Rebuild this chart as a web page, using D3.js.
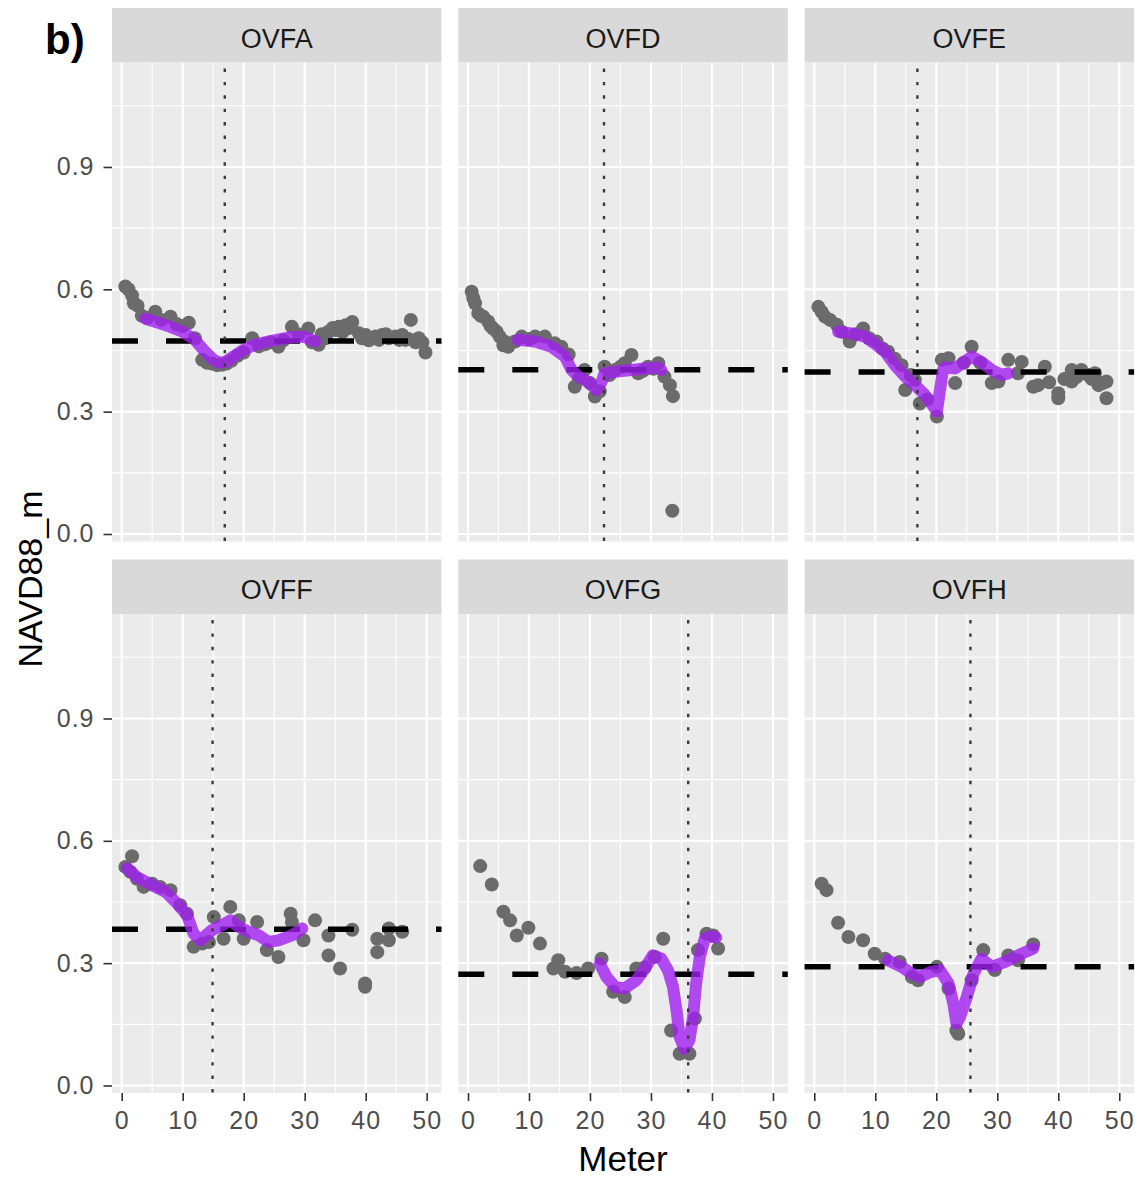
<!DOCTYPE html>
<html>
<head>
<meta charset="utf-8">
<script src="https://cdn.jsdelivr.net/npm/d3@7"></script>
<style>
    body { margin: 0; background: #ffffff; }
    text { font-family: "Liberation Sans", Arial, sans-serif; }
</style>
</head>
<body>
<div id="my_dataviz"></div>
<script>
//== DATA ================================================//
var sites = ["OVFA", "OVFD", "OVFE", "OVFF", "OVFG", "OVFH"];
var refLevel = [0.473, 0.403, 0.397, 0.383, 0.273, 0.291]; // dashed line
var crossMeter = [16.9, 22.3, 16.9, 14.9, 36.1, 25.6]; // dotted line

var xTicks = [0, 10, 20, 30, 40, 50];
var xMinor = [5, 15, 25, 35, 45];
var yTicks = [0, 0.3, 0.6, 0.9];
var yMinor = [0.15, 0.45, 0.75, 1.05];

// survey points
var ovfaMeter = [0.6, 1.1, 1.7, 2.0, 2.6, 3.3, 4.2, 5.5, 6.5, 8.0, 9.0, 10.0, 11.0, 12.0, 13.2, 14.0, 14.8, 15.6, 16.4, 17.2,
    18.0, 19.0, 20.0, 21.4, 22.5, 23.5, 24.5, 25.7, 26.5, 27.9, 29.0, 30.6, 31.2, 32.3, 33.4, 33.9, 34.6, 35.6, 36.7, 37.8,
    38.9, 40.0, 41.0, 41.6, 42.7, 43.8, 44.9, 46.0, 46.5, 47.4, 48.7, 49.8,
    32.8, 35.1, 36.2, 37.3, 39.4, 40.5, 42.2, 43.3, 45.5, 47.0, 48.2, 49.3];
var ovfaNavd = [0.607, 0.600, 0.585, 0.566, 0.56, 0.535, 0.53, 0.545, 0.525, 0.533, 0.515, 0.51, 0.518, 0.48, 0.427, 0.42, 0.418, 0.414, 0.415, 0.418,
    0.425, 0.437, 0.445, 0.48, 0.46, 0.465, 0.47, 0.459, 0.475, 0.508, 0.49, 0.504, 0.47, 0.464, 0.48, 0.496, 0.505, 0.508, 0.512, 0.52,
    0.492, 0.488, 0.48, 0.484, 0.488, 0.48, 0.484, 0.488, 0.476, 0.525, 0.48, 0.445,
    0.49, 0.5, 0.495, 0.505, 0.48, 0.475, 0.476, 0.49, 0.476, 0.478, 0.47, 0.47];

var ovfdMeter = [0.6, 0.87, 1.15, 1.7, 2.5, 3.3, 4.1, 4.7, 5.2, 5.8, 6.6, 7.7, 8.8, 10, 11, 12.6, 14.2, 15.3, 16.5, 17.5,
    18.2, 19.1, 20.0, 20.8, 21.6, 22.4, 23.2, 24.1, 25.0, 25.7, 26.8, 27.9, 28.7, 29.5, 30.4, 31.2, 32.2, 33.1, 33.6, 33.5,
    2.1, 3.7, 6.2];
var ovfdNavd = [0.594, 0.578, 0.566, 0.541, 0.533, 0.521, 0.504, 0.496, 0.484, 0.463, 0.459, 0.472, 0.484, 0.478, 0.484, 0.484, 0.468, 0.459, 0.44, 0.361,
    0.38, 0.402, 0.37, 0.337, 0.35, 0.41, 0.39, 0.402, 0.41, 0.419, 0.439, 0.394, 0.4, 0.41, 0.405, 0.419, 0.386, 0.365, 0.338, 0.057,
    0.535, 0.51, 0.47];

var ovfeMeter = [0.66, 1.2, 1.75, 2.6, 3.7, 4.5, 5.8, 6.8, 8.0, 9.0, 10.2, 11.2, 12.1, 13.2, 14.3, 14.9, 15.8, 16.5, 17.3, 18.5,
    20.1, 20.9, 22.0, 23.1, 24.5, 25.8, 27.2, 29.1, 30.2, 31.8, 33.4, 34.0, 35.9, 37.8, 38.5, 40.0, 40.0, 42.2, 42.2, 43.8,
    44.9, 46.0, 46.6, 47.9, 47.9,
    36.7, 41.0, 43.0, 45.5, 47.3];
var ovfeNavd = [0.557, 0.545, 0.533, 0.525, 0.513, 0.496, 0.472, 0.49, 0.504, 0.48, 0.472, 0.455, 0.447, 0.43, 0.414, 0.353, 0.39, 0.378, 0.32, 0.33,
    0.288, 0.427, 0.431, 0.37, 0.42, 0.459, 0.42, 0.37, 0.374, 0.427, 0.394, 0.422, 0.361, 0.41, 0.372, 0.345, 0.333, 0.402, 0.374, 0.402,
    0.39, 0.394, 0.365, 0.374, 0.333,
    0.365, 0.38, 0.385, 0.38, 0.37];

var ovffMeter = [0.6, 1.4, 1.7, 2.5, 3.6, 5.0, 6.3, 8.0, 9.6, 10.7, 11.8, 13.2, 14.3, 15.1, 16.7, 17.8, 19.2, 20.0, 22.2, 23.8,
    25.7, 27.7, 27.9, 29.8, 31.7, 33.9, 33.9, 35.8, 37.8, 39.9, 39.9, 41.9, 41.9, 43.8, 43.8, 46.0];
var ovffNavd = [0.536, 0.524, 0.562, 0.507, 0.487, 0.495, 0.487, 0.479, 0.442, 0.421, 0.34, 0.348, 0.352, 0.413, 0.36, 0.438, 0.405, 0.36, 0.401, 0.332,
    0.315, 0.421, 0.401, 0.356, 0.405, 0.368, 0.319, 0.287, 0.382, 0.25, 0.242, 0.327, 0.36, 0.385, 0.356, 0.377];

var ovfgMeter = [2.0, 3.9, 5.8, 6.9, 8.0, 9.9, 11.8, 14.0, 14.8, 15.9, 17.8, 19.7, 21.9, 23.8, 25.7, 27.6, 29.0, 30.6, 32.0, 33.3,
    34.7, 36.3, 37.2, 37.7, 39.1, 40.2, 41.0];
var ovfgNavd = [0.538, 0.493, 0.426, 0.405, 0.368, 0.387, 0.348, 0.287, 0.307, 0.279, 0.276, 0.287, 0.311, 0.23, 0.217, 0.287, 0.29, 0.315, 0.36, 0.135,
    0.078, 0.078, 0.164, 0.332, 0.372, 0.368, 0.336];

var ovfhMeter = [1.2, 2.0, 3.9, 5.6, 8.0, 9.9, 11.6, 14.0, 16.0, 17.0, 20.1, 22.0, 23.3, 23.6, 25.8, 27.7, 29.6, 31.8, 33.4, 35.9];
var ovfhNavd = [0.495, 0.479, 0.399, 0.364, 0.356, 0.323, 0.311, 0.303, 0.266, 0.258, 0.291, 0.238, 0.135, 0.127, 0.258, 0.332, 0.283, 0.319, 0.307, 0.346];

// purple profile line
var ovfaFitMeter = [3.9, 6, 8, 10, 12, 13.5, 15, 16, 17, 18, 20, 22, 24, 26, 28, 30, 31.7];
var ovfaFitNavd = [0.528, 0.518, 0.508, 0.496, 0.476, 0.45, 0.428, 0.42, 0.422, 0.432, 0.452, 0.465, 0.472, 0.478, 0.483, 0.483, 0.472];
var ovfdFitMeter = [8.2, 11, 13.7, 15.9, 17, 18.1, 19.7, 21.1, 21.9, 22.4, 24.1, 26.8, 29, 31.2, 31.7];
var ovfdFitNavd = [0.476, 0.472, 0.459, 0.435, 0.402, 0.386, 0.373, 0.353, 0.373, 0.394, 0.398, 0.402, 0.406, 0.408, 0.402];
var ovfeFitMeter = [3.9, 6.1, 8.3, 9.9, 11.6, 13.2, 14.9, 16.5, 17.9, 19.2, 20.1, 20.6, 21.1, 21.4, 23.1, 25.8, 27.4, 29.1, 30.7, 31.8];
var ovfeFitNavd = [0.496, 0.492, 0.484, 0.467, 0.447, 0.414, 0.386, 0.365, 0.345, 0.32, 0.3, 0.353, 0.402, 0.409, 0.406, 0.435, 0.422, 0.402, 0.39, 0.394];
var ovffFitMeter = [0.9, 2.5, 5, 7.2, 9.1, 10.7, 11.8, 12.9, 14.8, 16.4, 17.8, 19.2, 20.8, 22.5, 24.1, 25.7, 27.9, 29.6];
var ovffFitNavd = [0.532, 0.511, 0.491, 0.475, 0.446, 0.418, 0.372, 0.356, 0.381, 0.393, 0.405, 0.389, 0.377, 0.368, 0.352, 0.356, 0.368, 0.385];
var ovfgFitMeter = [21.6, 22.7, 24.1, 25.7, 27.6, 29, 30.3, 31.7, 32.8, 33.6, 34.2, 34.7, 35.5, 36.3, 36.9, 37.4, 38, 38.8, 39.9, 40.7];
var ovfgFitNavd = [0.299, 0.266, 0.242, 0.238, 0.258, 0.287, 0.319, 0.311, 0.282, 0.242, 0.184, 0.119, 0.09, 0.111, 0.168, 0.25, 0.315, 0.36, 0.366, 0.363];
var ovfhFitMeter = [12.1, 14.3, 16, 17.3, 19, 20.6, 22, 22.8, 23.3, 23.9, 25, 26.1, 27.4, 29.1, 31.3, 33.4, 35.9];
var ovfhFitNavd = [0.307, 0.291, 0.274, 0.266, 0.278, 0.283, 0.25, 0.201, 0.152, 0.168, 0.217, 0.274, 0.311, 0.291, 0.303, 0.319, 0.336];

var pointMeter = [ovfaMeter, ovfdMeter, ovfeMeter, ovffMeter, ovfgMeter, ovfhMeter];
var pointNavd = [ovfaNavd, ovfdNavd, ovfeNavd, ovffNavd, ovfgNavd, ovfhNavd];
var fitMeter = [ovfaFitMeter, ovfdFitMeter, ovfeFitMeter, ovffFitMeter, ovfgFitMeter, ovfhFitMeter];
var fitNavd = [ovfaFitNavd, ovfdFitNavd, ovfeFitNavd, ovffFitNavd, ovfgFitNavd, ovfhFitNavd];

//== PLOT ================================================//
var width = 1141,
    height = 1181;
var panelW = 329.5,
    panelH = 479,
    stripH = 54.5;
var colLeft = [112, 458.3, 804.6],
    rowTop = [8, 559.5];

var svg = d3.select("#my_dataviz")
    .append("svg")
    .attr("width", width)
    .attr("height", height);

var x = d3.scaleLinear()
    .domain([-1.59, 52.43])
    .range([0, panelW]);
var y = d3.scaleLinear()
    .domain([-0.0184, 1.1562])
    .range([panelH, 0]);

var line = d3.line()
    .x(function (d) { return x(d.m) })
    .y(function (d) { return y(d.v) });

for (var ii = 0; ii < sites.length; ii++) {
    var col = ii % 3,
        row = Math.floor(ii / 3);
    var g = svg.append("g")
        .attr("transform", "translate(" + colLeft[col] + "," + rowTop[row] + ")");

    // strip
    g.append("rect")
        .attr("width", panelW)
        .attr("height", stripH)
        .attr("fill", "#D9D9D9");
    g.append("text")
        .attr("x", panelW / 2)
        .attr("y", 39.5)
        .attr("text-anchor", "middle")
        .attr("font-size", "27px")
        .attr("fill", "#1A1A1A")
        .text(sites[ii]);

    var p = g.append("g")
        .attr("transform", "translate(0," + stripH + ")");
    p.append("rect")
        .attr("width", panelW)
        .attr("height", panelH)
        .attr("fill", "#EBEBEB");

    // grid
    p.selectAll(".xminor").data(xMinor).enter().append("line")
        .attr("x1", function (d) { return x(d) }).attr("x2", function (d) { return x(d) })
        .attr("y1", 0).attr("y2", panelH)
        .attr("stroke", "#fff").attr("stroke-width", 1.1);
    p.selectAll(".yminor").data(yMinor).enter().append("line")
        .attr("y1", function (d) { return y(d) }).attr("y2", function (d) { return y(d) })
        .attr("x1", 0).attr("x2", panelW)
        .attr("stroke", "#fff").attr("stroke-width", 1.1);
    p.selectAll(".xmajor").data(xTicks).enter().append("line")
        .attr("x1", function (d) { return x(d) }).attr("x2", function (d) { return x(d) })
        .attr("y1", 0).attr("y2", panelH)
        .attr("stroke", "#fff").attr("stroke-width", 2.2);
    p.selectAll(".ymajor").data(yTicks).enter().append("line")
        .attr("y1", function (d) { return y(d) }).attr("y2", function (d) { return y(d) })
        .attr("x1", 0).attr("x2", panelW)
        .attr("stroke", "#fff").attr("stroke-width", 2.2);

    // points
    var pts = [];
    for (var jj = 0; jj < pointMeter[ii].length; jj++) {
        pts.push({ m: pointMeter[ii][jj], v: pointNavd[ii][jj] });
    }
    p.selectAll(".pt").data(pts).enter().append("circle")
        .attr("cx", function (d) { return x(d.m) })
        .attr("cy", function (d) { return y(d.v) })
        .attr("r", 7)
        .attr("fill", "#6B6B6B");

    // dashed reference level
    p.append("line")
        .attr("x1", 0).attr("x2", panelW)
        .attr("y1", y(refLevel[ii])).attr("y2", y(refLevel[ii]))
        .attr("stroke", "#000")
        .attr("stroke-width", 5.5)
        .attr("stroke-dasharray", "26,28");

    // purple profile
    var fit = [];
    for (var kk = 0; kk < fitMeter[ii].length; kk++) {
        fit.push({ m: fitMeter[ii][kk], v: fitNavd[ii][kk] });
    }
    p.append("path")
        .datum(fit)
        .attr("d", line)
        .attr("fill", "none")
        .attr("stroke", "#A020F0")
        .attr("stroke-opacity", 0.8)
        .attr("stroke-width", 12)
        .attr("stroke-linejoin", "round")
        .attr("stroke-linecap", "round");

    // dotted crossing line
    p.append("line")
        .attr("x1", x(crossMeter[ii])).attr("x2", x(crossMeter[ii]))
        .attr("y1", 0).attr("y2", panelH)
        .attr("stroke", "#3A3A3A")
        .attr("stroke-width", 2.4)
        .attr("stroke-dasharray", "3.4,10")
        .attr("stroke-dashoffset", -6);

    // axes
    if (col === 0) {
        var ya = p.append("g")
            .call(d3.axisLeft(y).tickValues(yTicks).tickFormat(d3.format(".1f")).tickSize(8.5).tickPadding(9));
        ya.select(".domain").remove();
        ya.selectAll("line").attr("stroke", "#333333").attr("stroke-width", 1.6);
        ya.selectAll("text").attr("fill", "#4D4D4D").attr("font-size", "25px")
            .attr("letter-spacing", "1px")
            .attr("font-family", "Liberation Sans, Arial, sans-serif");
    }
    if (row === 1) {
        var xa = p.append("g")
            .attr("transform", "translate(0," + panelH + ")")
            .call(d3.axisBottom(x).tickValues(xTicks).tickSize(8).tickPadding(10));
        xa.select(".domain").remove();
        xa.selectAll("line").attr("stroke", "#333333").attr("stroke-width", 1.6);
        xa.selectAll("text").attr("fill", "#4D4D4D").attr("font-size", "25px")
            .attr("letter-spacing", "1px")
            .attr("font-family", "Liberation Sans, Arial, sans-serif");
    }
}

//-- Add axis labels --//
svg.append("text")
    .attr("text-anchor", "middle")
    .attr("x", 623)
    .attr("y", 1171)
    .attr("font-size", "35px")
    .attr("fill", "#000")
    .text("Meter");

svg.append("text")
    .attr("text-anchor", "middle")
    .attr("transform", "translate(42,579)rotate(-90)")
    .attr("font-size", "34px")
    .attr("fill", "#000")
    .text("NAVD88_m");

// panel tag
svg.append("text")
    .attr("x", 45)
    .attr("y", 54)
    .attr("font-size", "42px")
    .attr("font-weight", "bold")
    .attr("fill", "#000")
    .text("b)");
</script>
</body>
</html>
